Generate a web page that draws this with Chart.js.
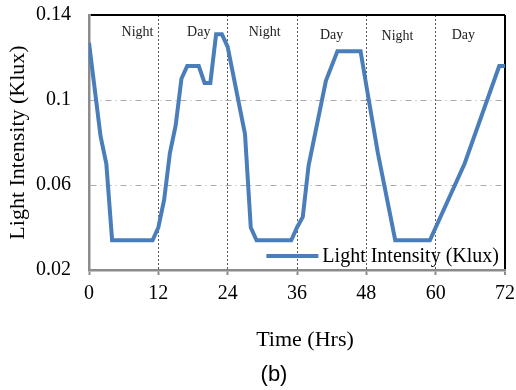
<!DOCTYPE html>
<html>
<head>
<meta charset="utf-8">
<script src="https://cdn.jsdelivr.net/npm/chart.js@4.4.0/dist/chart.umd.min.js"></script>
<style>
  body { margin: 0; background: #fff; }
  #wrap { width: 516px; height: 390px; }
</style>
</head>
<body>
<div id="wrap"><canvas id="lightChart"></canvas></div>
<script>
// light intensity over 72 hrs (klux)
const hours = [0, 2, 3, 4, 11, 12, 13, 14, 15, 16, 17, 19, 20, 21, 22, 23, 24, 27, 28, 29, 35, 36, 37, 38, 41, 43, 47, 48.3, 50, 53, 59, 65, 71, 72];
const intensity = [0.127, 0.083, 0.070, 0.034, 0.034, 0.040, 0.053, 0.075, 0.088, 0.110, 0.116, 0.116, 0.108, 0.108, 0.131, 0.131, 0.125, 0.084, 0.040, 0.034, 0.034, 0.040, 0.045, 0.069, 0.109, 0.123, 0.123, 0.102, 0.075, 0.034, 0.034, 0.070, 0.116, 0.116];

const yTickLabels = ['0.02', '0.06', '0.1', '0.14'];
const xTickLabels = ['0', '12', '24', '36', '48', '60', '72'];

const periodLabels = ['Night', 'Day', 'Night', 'Day', 'Night', 'Day'];
const periodHours = [8.4, 19, 30.4, 42, 53.4, 64.8];
const periodLevels = [0.132, 0.132, 0.132, 0.1303, 0.1298, 0.1303];

const seriesName = 'Light Intensity (Klux)';
const lineColor = '#4a7ebb';
const serif = "'Liberation Serif', 'Times New Roman', serif";

const extras = {
    id: 'extras',
    afterDraw(chart) {
        const ctx = chart.ctx;
        const xs = chart.scales.x, ys = chart.scales.y;
        const area = chart.chartArea;
        ctx.save();
        ctx.fillStyle = '#222';
        ctx.font = '14px ' + serif;
        ctx.textAlign = 'center';
        ctx.textBaseline = 'middle';
        periodLabels.forEach((txt, i) => {
            ctx.fillText(txt, xs.getPixelForValue(periodHours[i]), ys.getPixelForValue(periodLevels[i]));
        });

        // legend inside the plot, bottom right
        ctx.font = '20px ' + serif;
        ctx.fillStyle = '#000';
        const tw = ctx.measureText(seriesName).width;
        const tx = area.right - 6 - tw;
        const ly = area.bottom - 13;
        ctx.textAlign = 'left';
        ctx.fillText(seriesName, tx, ly);
        ctx.strokeStyle = lineColor;
        ctx.lineWidth = 4;
        ctx.beginPath();
        ctx.moveTo(tx - 56, ly - 1);
        ctx.lineTo(tx - 4, ly - 1);
        ctx.stroke();

        // axis title + caption
        ctx.textAlign = 'center';
        ctx.font = '22px ' + serif;
        const cx = (area.left + area.right) / 2;
        ctx.fillText('Time (Hrs)', cx + 8, area.bottom + 70);
        ctx.font = "22px 'Liberation Sans', Arial, sans-serif";
        ctx.fillText('(b)', cx - 23, area.bottom + 105);
        ctx.restore();
    }
};

new Chart(document.getElementById('lightChart'), {
    type: 'line',
    data: {
        datasets: [{
            label: seriesName,
            data: hours.map((h, i) => ({ x: h, y: intensity[i] })),
            borderColor: lineColor,
            borderWidth: 4,
            pointRadius: 0,
            tension: 0,
            fill: false
        }]
    },
    options: {
        responsive: true,
        maintainAspectRatio: false,
        animation: false,
        layout: { padding: { top: 15, right: 11, left: 0, bottom: 0 } },
        plugins: { legend: { display: false }, tooltip: { enabled: false } },
        scales: {
            x: {
                type: 'linear',
                min: 0,
                max: 72,
                afterFit: (s) => { s.height = 120; s.paddingRight = 0; },
                ticks: {
                    stepSize: 12,
                    color: '#000',
                    padding: 7,
                    font: { family: serif, size: 20 },
                    callback: (v, i) => xTickLabels[i]
                },
                grid: {
                    color: (c) => {
                        const v = c.tick ? c.tick.value : null;
                        if (v === 0) return 'rgba(0,0,0,0)';
                        if (v === 72) return '#000';
                        return '#555';
                    },
                    lineWidth: (c) => (c.tick && c.tick.value === 72 ? 2 : 1),
                    tickColor: '#8c8c8c',
                    tickLength: 5,
                    tickWidth: 2
                },
                border: {
                    color: '#8c8c8c',
                    width: 2.5,
                    dash: (c) => (c.tick && c.tick.value === 72 ? [] : [2, 2])
                }
            },
            y: {
                min: 0.02,
                max: 0.14,
                afterFit: (s) => { s.width = 89; s.paddingTop = 0; },
                ticks: {
                    stepSize: 0.04,
                    color: '#000',
                    padding: 18,
                    font: { family: serif, size: 20 },
                    callback: (v, i) => yTickLabels[i]
                },
                title: {
                    display: true,
                    text: seriesName,
                    color: '#000',
                    font: { family: serif, size: 22 },
                    padding: { top: 5, bottom: 0 }
                },
                grid: {
                    drawTicks: false,
                    color: (c) => {
                        const v = c.tick ? c.tick.value : null;
                        if (v !== null && Math.abs(v - 0.02) < 1e-6) return 'rgba(0,0,0,0)';
                        if (v !== null && Math.abs(v - 0.14) < 1e-6) return '#000';
                        return '#aaa';
                    },
                    lineWidth: (c) => (c.tick && Math.abs(c.tick.value - 0.14) < 1e-6 ? 2 : 1)
                },
                border: {
                    color: '#8c8c8c',
                    width: 2.5,
                    dash: (c) => (c.tick && Math.abs(c.tick.value - 0.14) < 1e-6 ? [] : [6, 4, 1, 4])
                }
            }
        }
    },
    plugins: [extras]
});
</script>
</body>
</html>
